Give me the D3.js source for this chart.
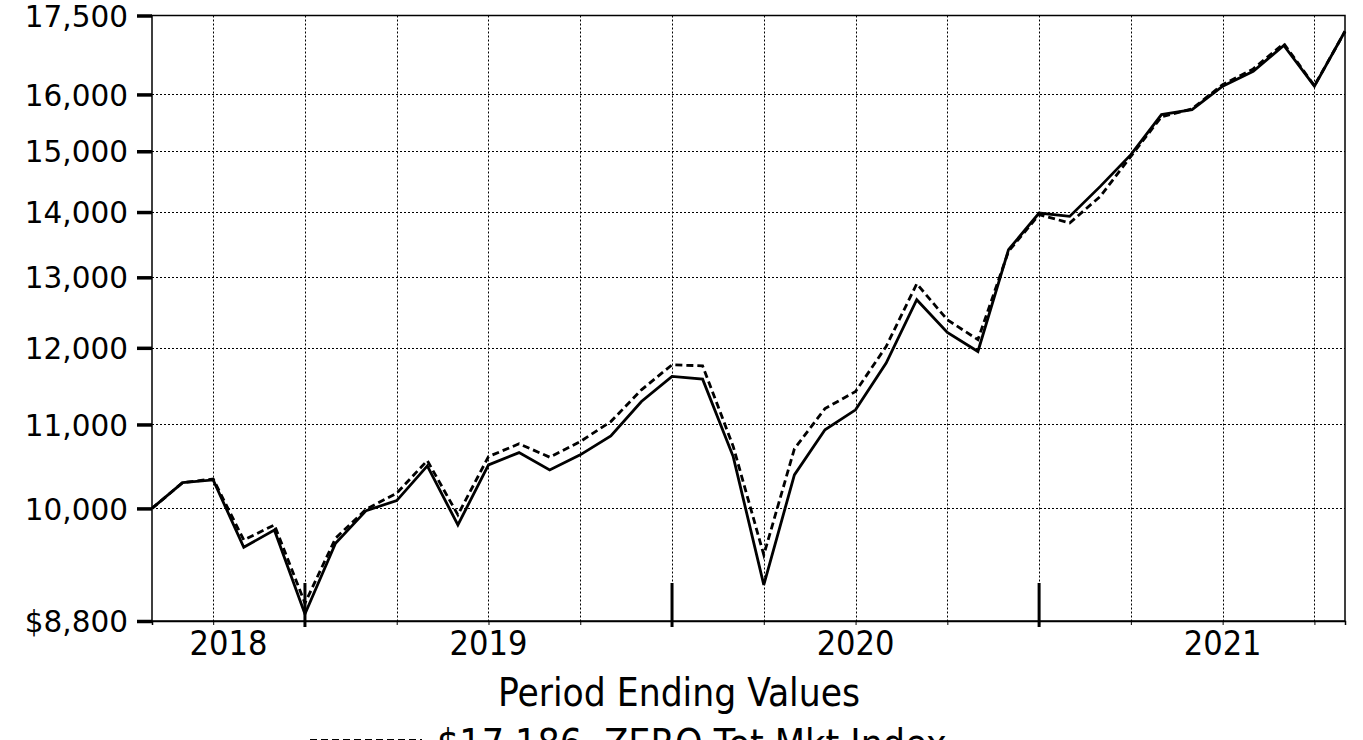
<!DOCTYPE html>
<html>
<head>
<meta charset="utf-8">
<script src="https://cdn.jsdelivr.net/npm/d3@7"></script>
<style>
  html, body { margin: 0; padding: 0; background: #fff; }
  svg { display: block; }
</style>
</head>
<body>
<svg id="chart" width="1363" height="740"></svg>
<script>
// ---- data ----
const periodIndex = [0,1,2,3,4,5,6,7,8,9,10,11,12,13,14,15,16,17,18,19,20,21,22,23,24,25,26,27,28,29,30,31,32,33,34,35,36,37,38,39];
const fundValues = [10000,10297,10329,9568,9758,8870,9612,9975,10089,10495,9814,10507,10654,10447,10627,10858,11290,11616,11581,10606,9168,10388,10933,11184,11794,12673,12211,11950,13414,13985,13931,14414,14943,15638,15727,16150,16427,16914,16150,17190];
const indexValues = [10000,10297,10340,9648,9814,8979,9667,9991,10174,10558,9927,10606,10761,10599,10788,11036,11441,11771,11757,10730,9485,10700,11200,11419,12018,12905,12388,12111,13390,13959,13827,14251,14915,15600,15740,16180,16470,16950,16160,17186];
const yTicks = [8800,10000,11000,12000,13000,14000,15000,16000,17500];
const yTickLabels = ["$8,800","10,000","11,000","12,000","13,000","14,000","15,000","16,000","17,500"];
const gridPeriods = [2,5,8,11,14,17,20,23,26,29,32,35,38];
const majorTickPeriods = [5,17,29];
const yearLabels = ["2018","2019","2020","2021"];
const yearLabelPeriods = [2.5,11,23,35];
const chartTitle = "Period Ending Values";
const legendLabel = "$17,186  ZERO Tot Mkt Index";

// ---- layout ----
const mLeft = 152, mRight = 1345, mTop = 15.5, mBottom = 621;
const svg = d3.select("#chart");

const x = d3.scaleLinear().domain([0, 39]).range([mLeft, mRight]);
const y = d3.scaleLog().domain([8800, 17500]).range([mBottom, mTop]);

// gridlines
const grid = svg.append("g");
grid.selectAll("line.h").data(yTicks.slice(1, -1)).join("line")
  .attr("x1", mLeft).attr("x2", mRight)
  .attr("y1", d => Math.round(y(d)) + 0.5).attr("y2", d => Math.round(y(d)) + 0.5)
  .attr("stroke", "#000").attr("stroke-width", 1).attr("stroke-dasharray", "2,2");
grid.selectAll("line.v").data(gridPeriods).join("line")
  .attr("x1", d => Math.round(x(d)) + 0.5).attr("x2", d => Math.round(x(d)) + 0.5)
  .attr("y1", mTop).attr("y2", mBottom)
  .attr("stroke", "#000").attr("stroke-width", 1).attr("stroke-dasharray", "2,2");

// frame
svg.append("rect").attr("x", mLeft).attr("y", mTop).attr("width", mRight - mLeft).attr("height", mBottom - mTop)
  .attr("fill", "none").attr("stroke", "#000").attr("stroke-width", 1.5);

// y axis
const yAxis = d3.axisLeft(y).tickValues(yTicks).tickFormat((d, i) => yTickLabels[i]).tickSize(15).tickPadding(9);
const yg = svg.append("g").attr("transform", `translate(${mLeft},0)`).call(yAxis);
yg.select(".domain").remove();
yg.selectAll(".tick line").attr("stroke", "#000").attr("stroke-width", 3.5);
yg.selectAll(".tick text").attr("font-family", "'DejaVu Sans', sans-serif").attr("font-size", 29.5).attr("fill", "#000").attr("dy", "0.36em");

// x axis minor ticks
const xAxis = d3.axisBottom(x).tickValues(gridPeriods).tickFormat("").tickSize(4);
const xg = svg.append("g").attr("transform", `translate(0,${mBottom})`).call(xAxis);
xg.select(".domain").attr("stroke", "#000").attr("stroke-width", 1.5);
xg.selectAll(".tick line").attr("stroke", "#000").attr("stroke-width", 1);

// major ticks
svg.append("g").selectAll("line").data(majorTickPeriods).join("line")
  .attr("x1", d => x(d)).attr("x2", d => x(d))
  .attr("y1", mBottom - 38).attr("y2", mBottom + 6)
  .attr("stroke", "#000").attr("stroke-width", 3);

// year labels
svg.append("g").selectAll("text").data(yearLabels).join("text")
  .attr("x", (d, i) => x(yearLabelPeriods[i])).attr("y", 655)
  .attr("text-anchor", "middle")
  .attr("font-family", "'DejaVu Sans Condensed', 'DejaVu Sans', sans-serif")
  .attr("font-size", 34).attr("fill", "#000")
  .text(d => d);

// lines
const line = vals => d3.line().x((d, i) => x(periodIndex[i])).y(d => y(d))(vals);
svg.append("path").attr("d", line(indexValues)).attr("fill", "none")
  .attr("stroke", "#000").attr("stroke-width", 2.8).attr("stroke-dasharray", "7,4");
svg.append("path").attr("d", line(fundValues)).attr("fill", "none")
  .attr("stroke", "#000").attr("stroke-width", 2.8).attr("stroke-linejoin", "miter");

// title
svg.append("text").attr("x", 679).attr("y", 706).attr("text-anchor", "middle")
  .attr("font-family", "'DejaVu Sans Condensed', 'DejaVu Sans', sans-serif")
  .attr("font-size", 38.5).attr("fill", "#000").text(chartTitle);

// legend (partially cut off at the bottom edge, as in the source image)
svg.append("line").attr("x1", 310).attr("x2", 422).attr("y1", 740.5).attr("y2", 740.5)
  .attr("stroke", "#000").attr("stroke-width", 2.8).attr("stroke-dasharray", "7,4");
svg.append("text").attr("x", 437).attr("y", 757)
  .attr("font-family", "'DejaVu Sans Condensed', 'DejaVu Sans', sans-serif")
  .attr("font-size", 39).attr("fill", "#000").style("white-space", "pre").text(legendLabel);
</script>
</body>
</html>
